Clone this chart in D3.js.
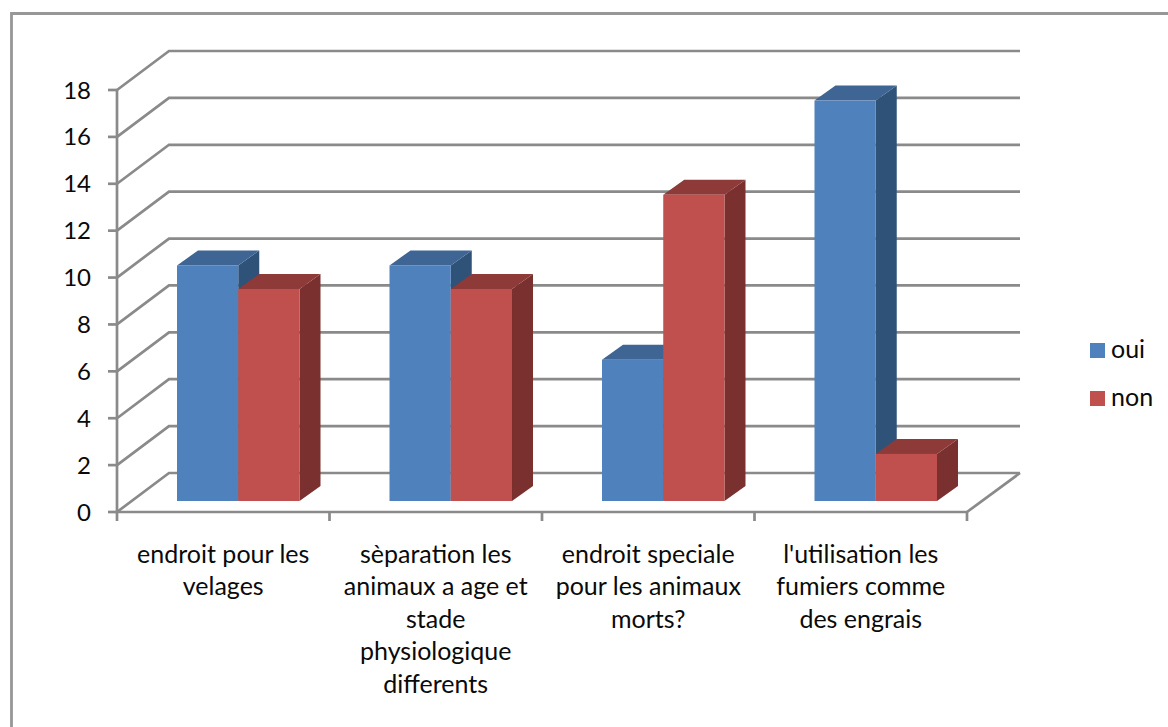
<!DOCTYPE html>
<html>
<head>
<meta charset="utf-8">
<script src="https://cdn.jsdelivr.net/npm/d3@7/dist/d3.min.js"></script>
<style>
  html, body { margin: 0; padding: 0; background: #fff; }
  svg { display: block; }
  text { font-family: Lato, "Open Sans", sans-serif; fill: #0a0a0a; }
</style>
</head>
<body>
<svg id="chart" width="1168" height="727"></svg>
<script>
// Chart data
const categoryLines = [
  ["endroit pour les", "velages"],
  ["sèparation les", "animaux a age et", "stade", "physiologique", "differents"],
  ["endroit speciale", "pour les animaux", "morts?"],
  ["l'utilisation les", "fumiers comme", "des engrais"]
];
const categories = categoryLines.map(lines => lines.join(" "));
const seriesNames = ["oui", "non"];
const ouiValues = [10, 10, 6, 17];
const nonValues = [9, 9, 13, 2];
const yTicks = [0, 2, 4, 6, 8, 10, 12, 14, 16, 18];

const palette = {
  oui: { front: "#4f81bd", top: "#3e6593", side: "#2f5279" },
  non: { front: "#c0504d", top: "#8e3a38", side: "#7a302e" }
};
const gridColor = "#8a8a8a";

const svg = d3.select("#chart");

// Scene geometry: the front plane, the wall offset and the bar depth
const plot = { left: 117, right: 967, bottom: 512, top: 90 };
const wall = { dx: 52, dy: -39 };
const depth = { dx: 21, dy: -15 };

const axisY = d3.scaleLinear().domain([0, 18]).range([plot.bottom, plot.top]);
const barY = d3.scaleLinear().domain([0, 18]).range([501, 77]);
const axisX = d3.scaleBand().domain(categories).range([plot.left, plot.right]);
const groupX = d3.scaleBand().domain(categories)
  .range([plot.left + 15, plot.right + 15])
  .paddingInner(0.4235).paddingOuter(0.2118);
const seriesX = d3.scaleBand().domain(seriesNames).range([0, groupX.bandwidth()]);

// Outer frame, open on the right and at the bottom
svg.append("path")
  .attr("d", "M11.5,727V13.5H1168")
  .attr("fill", "none").attr("stroke", "#979797").attr("stroke-width", 2.8);

// Gridlines run along the back wall and fold forward to the axis
const grid = svg.append("g").attr("fill", "none").attr("stroke", gridColor).attr("stroke-width", 2.7);
grid.selectAll("path").data(yTicks).join("path")
  .attr("d", t => {
    const y = axisY(t);
    return `M${plot.left},${y}L${plot.left + wall.dx},${y + wall.dy}H${plot.right + wall.dx + 1}`;
  });

// Floor edge on the right and the two axes
grid.append("path")
  .attr("d", `M${plot.right},${plot.bottom}L${plot.right + wall.dx + 1},${plot.bottom + wall.dy}`);

const axisGroup = svg.append("g").attr("fill", "none").attr("stroke", gridColor).attr("stroke-width", 2.7);
axisGroup.append("path")
  .attr("d", `M${plot.left},${axisY(18)}V${plot.bottom}H${plot.right}`);
axisGroup.selectAll(".ytick").data(yTicks).join("path").attr("class", "ytick")
  .attr("d", t => `M${plot.left - 9},${axisY(t)}H${plot.left}`);
axisGroup.selectAll(".xtick").data([...categories.map(c => axisX(c)), plot.right]).join("path").attr("class", "xtick")
  .attr("d", x => `M${x},${plot.bottom}V${plot.bottom + 9}`);

// Value labels
svg.append("g").selectAll("text").data(yTicks).join("text")
  .attr("x", 91).attr("y", t => axisY(t) + 8.5)
  .attr("text-anchor", "end").attr("font-size", 24)
  .text(t => t);

// Category labels, one text element per wrapped line
const labelGroups = svg.append("g").selectAll("g").data(categoryLines).join("g");
labelGroups.selectAll("text").data((lines, i) => lines.map(line => ({ line, i }))).join("text")
  .attr("x", d => axisX(categories[d.i]) + axisX.bandwidth() / 2)
  .attr("y", (d, j) => 563 + j * 32.4)
  .attr("text-anchor", "middle").attr("font-size", 25)
  .text(d => d.line);

// Extruded bars: side and top faces sit behind each front face
function drawBars(name, values) {
  const colors = palette[name];
  const bars = svg.append("g").selectAll("g").data(values).join("g");
  const left = (v, i) => groupX(categories[i]) + seriesX(name);
  const w = seriesX.bandwidth();

  bars.append("path").attr("fill", colors.side)
    .attr("d", (v, i) => {
      const x = left(v, i) + w, top = barY(v), base = barY(0);
      return `M${x},${top}L${x + depth.dx},${top + depth.dy}V${base + depth.dy}L${x},${base}Z`;
    });
  bars.append("path").attr("fill", colors.top)
    .attr("d", (v, i) => {
      const x = left(v, i), top = barY(v);
      return `M${x},${top}L${x + depth.dx},${top + depth.dy}H${x + w + depth.dx}L${x + w},${top}Z`;
    });
  bars.append("rect").attr("fill", colors.front)
    .attr("x", left).attr("y", v => barY(v))
    .attr("width", w).attr("height", v => barY(0) - barY(v));
}
drawBars("oui", ouiValues);
drawBars("non", nonValues);

// Legend
const legend = svg.append("g").selectAll("g").data(seriesNames).join("g")
  .attr("transform", (d, i) => `translate(1090,${343 + i * 48})`);
legend.append("rect").attr("width", 15).attr("height", 15).attr("fill", d => palette[d].front);
legend.append("text").attr("x", 21).attr("y", 15).attr("font-size", 25).text(d => d);
</script>
</body>
</html>
